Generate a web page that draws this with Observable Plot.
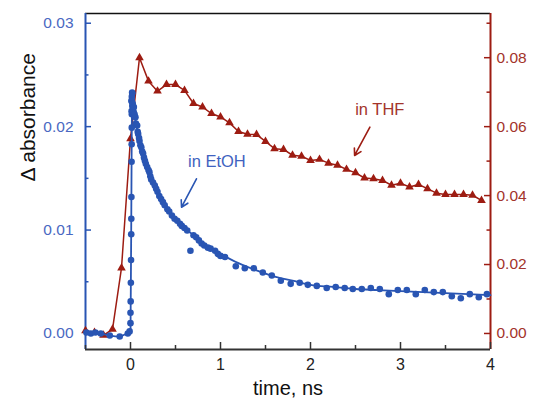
<!DOCTYPE html>
<html>
<head>
<meta charset="utf-8">
<script src="https://cdn.jsdelivr.net/npm/d3@7"></script>
<script src="https://cdn.jsdelivr.net/npm/@observablehq/plot@0.6"></script>
<style>
  html, body { margin: 0; padding: 0; background: #fff; }
  #chart svg { display: block; font-family: "Liberation Sans", Arial, sans-serif; }
</style>
</head>
<body>
<div id="chart"></div>
<script>
// ---- data ----
const thfTime = [-0.5,-0.4,-0.3,-0.2,-0.1,0,0.1,0.2,0.3,0.4,0.5,0.6,0.7,0.8,0.9,1.0,1.1,1.2,1.3,1.4,1.5,1.6,1.7,1.8,1.9,2.0,2.1,2.2,2.3,2.4,2.5,2.6,2.7,2.8,2.9,3.0,3.1,3.2,3.3,3.4,3.5,3.6,3.7,3.8,3.9];
const thfValue = [0.0008,0.0003,-0.0005,0.0012,0.0190,0.0565,0.0800,0.0732,0.0703,0.0722,0.0722,0.0705,0.0667,0.0657,0.0638,0.0628,0.0611,0.0586,0.0578,0.0577,0.0557,0.0536,0.0534,0.0517,0.0514,0.0502,0.0505,0.0494,0.0488,0.0476,0.0466,0.0451,0.0449,0.0444,0.0430,0.0436,0.0425,0.0432,0.0420,0.0407,0.0403,0.0403,0.0403,0.0401,0.0386];

const etohTime = [-0.49,-0.44,-0.39,-0.33,-0.23,-0.12,-0.03,-0.01,
  0.0,0.0,0.002,0.004,0.006,0.008,0.009,0.010,0.012,0.013,0.014,0.015,0.016,0.018,
  0.02,0.015,0.01,0.02,0.012,0.025,0.03,0.035,
  0.037,0.045,0.055,0.06,0.074,0.08,0.085,0.095,0.10,0.11,0.12,0.13,0.14,0.15,0.16,0.17,0.185,0.20,0.21,0.22,0.23,0.25,0.27,0.285,0.30,0.32,0.34,0.36,0.38,0.41,0.43,0.46,0.49,0.52,0.55,0.57,0.60,0.63,0.666,0.70,0.73,0.76,0.79,0.82,0.86,0.89,0.94,0.97,1.0,1.05,
  1.17,1.27,1.37,1.47,1.57,1.67,1.78,1.88,1.97,2.07,2.18,2.28,2.38,2.47,2.57,2.67,2.77,2.87,2.97,3.07,3.17,3.27,3.37,3.47,3.57,3.67,3.77,3.87,3.96];
const etohValue = [0.0001,0.0,0.0001,0.0,-0.0002,-0.0003,0.0,0.0002,
  0.0010,0.0020,0.0031,0.0049,0.0071,0.0096,0.0111,0.0132,0.0166,0.0183,0.0199,0.0212,0.0224,0.0233,
  0.0232,0.0229,0.0225,0.0220,0.0215,0.0222,0.0218,0.0214,
  0.0219,0.0212,0.0209,0.0203,0.0201,0.0195,0.0193,0.0189,0.0186,0.0182,0.0180,0.0176,0.0174,0.0170,0.0167,0.0164,0.0161,0.0158,0.0156,0.0152,0.0149,0.0146,0.0143,0.0140,0.0137,0.0133,0.0130,0.0127,0.0124,0.0120,0.0118,0.0114,0.0111,0.0109,0.0106,0.0104,0.0102,0.00995,0.0080,0.0095,0.0093,0.0090,0.0087,0.0085,0.0083,0.0082,0.0080,0.0077,0.0075,0.0074,
  0.0065,0.0063,0.0063,0.0059,0.0056,0.0051,0.0048,0.0049,0.0047,0.0046,0.0044,0.0045,0.0044,0.0043,0.0043,0.0044,0.0043,0.0038,0.0042,0.0042,0.0038,0.0042,0.0040,0.0040,0.0036,0.0034,0.0038,0.0035,0.0038];

// smooth fit line through the EtOH data
const fitTime = [-0.5,-0.44,-0.39,-0.33,-0.23,-0.12,-0.03,0.0,0.012,0.018,0.03,0.06,0.1,0.15,0.2,0.3,0.4,0.5,0.6,0.7,0.8,0.9,1.0,1.2,1.4,1.6,1.8,2.0,2.25,2.5,2.75,3.0,3.25,3.5,3.75,4.0];
const fitValue = [0.0001,0.0,0.0001,0.0,-0.0002,-0.0003,0.0,0.0,0.0166,0.0233,0.0222,0.0204,0.0187,0.0170,0.0157,0.0137,0.0122,0.0111,0.0102,0.0095,0.0088,0.0082,0.0077,0.0068,0.0061,0.0055,0.0051,0.0047,0.0045,0.0043,0.0042,0.0041,0.0040,0.0039,0.0038,0.0037];

const xTicksMajor = [0,1,2,3,4];
const xTicksMinor = [-0.5,0.5,1.5,2.5,3.5];
const leftTicksMajor = [0.00,0.01,0.02,0.03];
const leftTicksMinor = [0.005,0.015,0.025];
const rightTicksMajor = [0.00,0.02,0.04,0.06,0.08];
const rightTicksMinor = [0.01,0.03,0.05,0.07,0.09];
const rightFactor = 3; // right axis = 3 x left axis

const xDomain = [-0.5, 4];
const yDomain = [-0.00155, 0.03094];

const annotations = [
  {label: "in THF", t: 2.77, v: 0.02159, color: "#a3342b"},
  {label: "in EtOH", t: 0.96, v: 0.01659, color: "#3f62c0"}
];
const arrows = [
  {t1: 2.66, v1: 0.01995, t2: 2.49, v2: 0.01721, color: "#9d1c12"},
  {t1: 0.733, v1: 0.01496, t2: 0.567, v2: 0.01221, color: "#2955b3"}
];

// ---- styling ----
const blue = "#2955b3", blueText = "#4a68c2", red = "#9d1c12", redText = "#a3342b";
const W = 534, H = 405, mL = 85, mR = 44, mT = 13, mB = 56;
const pw = W - mL - mR, ph = H - mT - mB;

const thf = thfTime.map((t, i) => ({t, v: thfValue[i] / rightFactor}));
const etoh = etohTime.map((t, i) => ({t, v: etohValue[i]}));
const fit = fitTime.map((t, i) => ({t, v: fitValue[i]}));

const chart = Plot.plot({
  width: W, height: H,
  marginLeft: mL, marginRight: mR, marginTop: mT, marginBottom: mB,
  style: {fontFamily: "Liberation Sans, Arial, sans-serif", background: "#fff"},
  x: {domain: xDomain, axis: null},
  y: {domain: yDomain, axis: null},
  marks: [
    // frame lines
    Plot.ruleY([yDomain[1]], {stroke: "#111", strokeWidth: 1.5}),
    Plot.ruleY([yDomain[0]], {stroke: "#333", strokeWidth: 2}),
    Plot.ruleX([xDomain[0]], {stroke: blue, strokeWidth: 2}),
    Plot.ruleX([xDomain[1]], {stroke: red, strokeWidth: 2}),
    // inward ticks
    Plot.tickX(xTicksMajor, {x: d => d, insetTop: ph - 7, stroke: "#333", strokeWidth: 1.5}),
    Plot.tickX(xTicksMinor, {x: d => d, insetTop: ph - 4, stroke: "#333", strokeWidth: 1.5}),
    Plot.tickY(leftTicksMajor, {y: d => d, insetRight: pw - 6, stroke: blue, strokeWidth: 1.5}),
    Plot.tickY(leftTicksMinor, {y: d => d, insetRight: pw - 3.5, stroke: blue, strokeWidth: 1.5}),
    Plot.tickY(rightTicksMajor, {y: d => d / rightFactor, insetLeft: pw - 6, stroke: red, strokeWidth: 1.5}),
    Plot.tickY(rightTicksMinor, {y: d => d / rightFactor, insetLeft: pw - 3.5, stroke: red, strokeWidth: 1.5}),
    // tick labels
    Plot.axisX({ticks: xTicksMajor, tickSize: 0, tickPadding: 9, fontSize: 16, fill: "#222", tickFormat: d3.format("d"), label: null}),
    Plot.axisY({ticks: leftTicksMajor, tickSize: 0, tickPadding: 12, fontSize: 15.5, fill: blueText, tickFormat: d3.format(".2f"), label: null}),
    Plot.axisY({anchor: "right", ticks: rightTicksMajor.map(d => d / rightFactor), tickSize: 0, tickPadding: 6, fontSize: 15.5, fill: redText, tickFormat: d => d3.format(".2f")(d * rightFactor), label: null}),
    // axis titles
    Plot.text(["time, ns"], {frameAnchor: "bottom", dy: 45, fontSize: 20, fill: "#111"}),
    Plot.text(["Δ absorbance"], {frameAnchor: "left", dx: -57, rotate: -90, fontSize: 21, fill: "#111"}),
    // THF series
    Plot.line(thf, {x: "t", y: "v", stroke: red, strokeWidth: 1.5}),
    Plot.dot(thf, {x: "t", y: "v", symbol: "triangle", r: 3.2, fill: red, stroke: null}),
    // EtOH series
    Plot.line(fit, {x: "t", y: "v", stroke: blue, strokeWidth: 1.8, curve: "monotone-x"}),
    Plot.dot(etoh, {x: "t", y: "v", r: 3.3, fill: blue, stroke: null}),
    // annotations
    Plot.text(annotations, {x: "t", y: "v", text: "label", fill: d => d.color, fontSize: 16.5}),
    Plot.arrow(arrows, {x1: "t1", y1: "v1", x2: "t2", y2: "v2", stroke: d => d.color, strokeWidth: 1.6, headLength: 7})
  ]
});
document.getElementById("chart").appendChild(chart);
</script>
</body>
</html>
